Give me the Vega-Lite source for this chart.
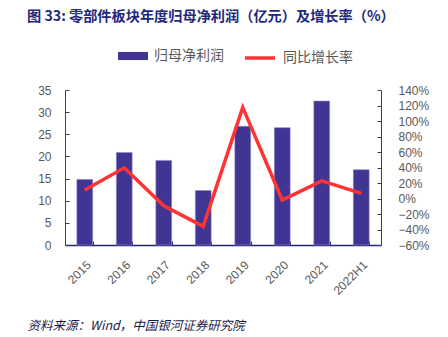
{
  "$schema": "https://vega.github.io/schema/vega-lite/v6.json",
  "width": 316,
  "height": 155,
  "autosize": {"type": "none"},
  "padding": {"left": 65, "top": 90, "right": 67, "bottom": 92},
  "background": "white",
  "title": {
    "text": "图 33:  零部件板块年度归母净利润（亿元）及增长率（%）",
    "anchor": "start",
    "frame": "group",
    "dx": -38,
    "offset": 10,
    "baseline": "middle",
    "font": "Noto Sans CJK SC",
    "fontSize": 14.2,
    "fontWeight": "bold",
    "color": "#22287A"
  },
  "data": {
    "values": [
      {"year": "2015", "profit": 14.8, "growth": 0.11},
      {"year": "2016", "profit": 20.9, "growth": 0.396},
      {"year": "2017", "profit": 19.1, "growth": -0.094},
      {"year": "2018", "profit": 12.3, "growth": -0.36},
      {"year": "2019", "profit": 26.8, "growth": 1.175},
      {"year": "2020", "profit": 26.5, "growth": -0.02},
      {"year": "2021", "profit": 32.5, "growth": 0.227},
      {"year": "2022H1", "profit": 17.0, "growth": 0.066}
    ]
  },
  "encoding": {
    "x": {
      "field": "year",
      "type": "nominal",
      "sort": null,
      "scale": {"paddingInner": 0.6, "paddingOuter": 0.3},
      "axis": {
        "title": "资料来源：Wind，中国银河证券研究院",
        "titleAnchor": "start",
        "titleAngle": 0,
        "titleX": -38,
        "titleY": 80,
        "titleBaseline": "middle",
        "titleAlign": "left",
        "titleFont": "Noto Sans CJK SC",
        "titleFontSize": 12.5,
        "titleFontStyle": "italic",
        "titleFontWeight": "normal",
        "titleColor": "#1A1A4A",
        "labelAngle": -45,
        "labelAlign": "right",
        "labelBaseline": "top",
        "labelFont": "Liberation Sans",
        "labelFontSize": 12,
        "labelColor": "#595959",
        "labelPadding": 18,
        "domainColor": "#1F2A6E",
        "domainWidth": 1.5,
        "tickBand": "extent",
        "tickSize": -4,
        "tickColor": "#1F2A6E",
        "grid": false
      }
    }
  },
  "layer": [
    {
      "mark": {"type": "bar", "stroke": "#8C86C0", "strokeWidth": 0.6},
      "encoding": {
        "y": {
          "field": "profit",
          "type": "quantitative",
          "scale": {"domain": [0, 35], "nice": false},
          "axis": {
            "title": null,
            "values": [0, 5, 10, 15, 20, 25, 30, 35],
            "labelFont": "Liberation Sans",
            "labelFontSize": 12,
            "labelColor": "#595959",
            "labelPadding": 18,
            "domainColor": "#404040",
            "tickColor": "#404040",
            "tickSize": -4,
            "grid": false
          }
        },
        "fill": {
          "datum": "归母净利润",
          "type": "nominal",
          "scale": {"domain": ["归母净利润"], "range": ["#403594"]},
          "legend": {
            "title": null,
            "orient": "none",
            "legendX": 53,
            "legendY": -49,
            "direction": "horizontal",
            "symbolType": "M-1,-0.27H1V0.27H-1Z",
            "symbolSize": 900,
            "symbolStrokeWidth": 0,
            "labelOffset": 6,
            "labelFont": "Noto Sans CJK SC",
            "labelFontSize": 14,
            "labelColor": "#595959"
          }
        }
      }
    },
    {
      "mark": {"type": "line", "strokeWidth": 3.5},
      "encoding": {
        "y": {
          "field": "growth",
          "type": "quantitative",
          "scale": {"domain": [-0.6, 1.4], "nice": false},
          "axis": {
            "title": null,
            "orient": "right",
            "format": ".0%",
            "values": [-0.6, -0.4, -0.2, 0, 0.2, 0.4, 0.6, 0.8, 1.0, 1.2, 1.4],
            "labelFont": "Liberation Sans",
            "labelFontSize": 12,
            "labelColor": "#595959",
            "labelPadding": 21,
            "domainColor": "#404040",
            "tickColor": "#404040",
            "tickSize": -4,
            "grid": false
          }
        },
        "stroke": {
          "datum": "同比增长率",
          "type": "nominal",
          "scale": {"domain": ["同比增长率"], "range": ["#FF3333"]},
          "legend": {
            "title": null,
            "orient": "none",
            "legendX": 178,
            "legendY": -49,
            "direction": "horizontal",
            "symbolType": "stroke",
            "symbolSize": 900,
            "symbolStrokeWidth": 3.5,
            "labelOffset": 6,
            "labelFont": "Noto Sans CJK SC",
            "labelFontSize": 14,
            "labelColor": "#595959"
          }
        }
      }
    }
  ],
  "resolve": {"scale": {"y": "independent"}},
  "config": {"view": {"stroke": null}}
}
